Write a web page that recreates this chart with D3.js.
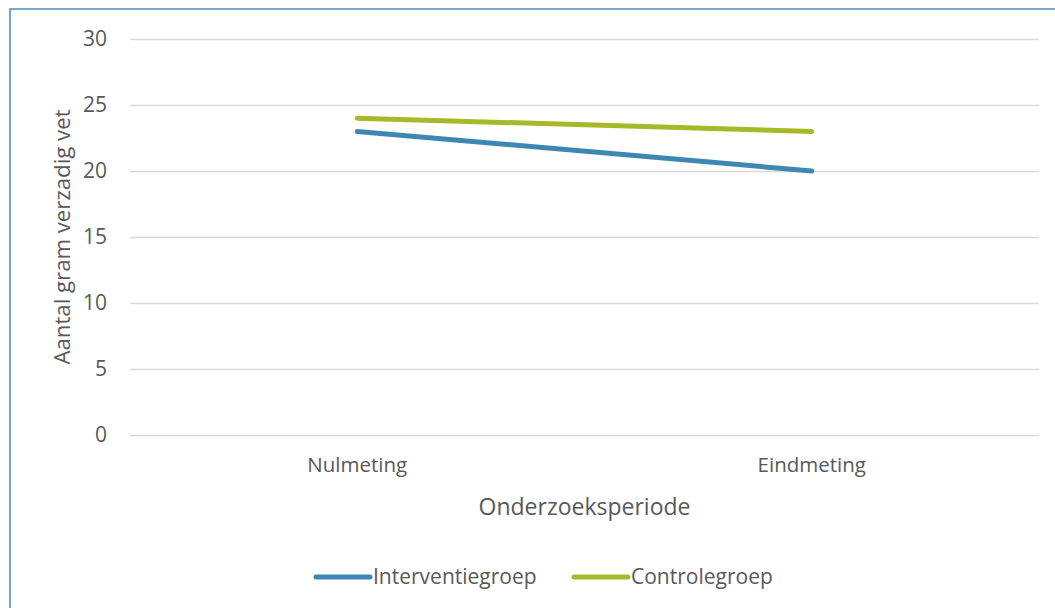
<!DOCTYPE html>
<html><head><meta charset="utf-8">
<script src="https://cdn.jsdelivr.net/npm/d3@7"></script>
<style>
html,body{margin:0;padding:0;background:#fff;}
svg{display:block;font-family:"Open Sans","Liberation Sans",sans-serif;}
</style></head>
<body>
<svg id="c" width="1055" height="608"></svg>
<script>
const categories = ["Nulmeting", "Eindmeting"];
const seriesNames = ["Interventiegroep", "Controlegroep"];
const interventie = [23, 20];
const controle = [24, 23];
const yTicks = [0, 5, 10, 15, 20, 25, 30];
const colors = ["#3e87b3", "#a7b928"];

const svg = d3.select("#c");
const m = {left:130, right:1039, top:39, bottom:435};
const x = d3.scaleBand().domain(categories).range([m.left, m.right]);
const y = d3.scaleLinear().domain([0, 30]).range([m.bottom, m.top]);

// border
svg.append("rect").attr("x", 10).attr("y", 9).attr("width", 1100).attr("height", 700)
  .attr("fill", "none").attr("stroke", "#4a89bd").attr("stroke-width", 1.5);

// gridlines
const yAxis = d3.axisLeft(y).tickValues(yTicks).tickSize(-(m.right - m.left)).tickPadding(23);
const gy = svg.append("g").attr("transform", `translate(${m.left},0)`).call(yAxis);
gy.select(".domain").remove();
gy.attr("font-family", null).attr("font-size", null);
gy.selectAll(".tick line").attr("stroke", "#d9d9d9").attr("stroke-width", 1.3);
gy.selectAll(".tick text").attr("fill", "#595959").style("font-size", "21px");

const xAxis = d3.axisBottom(x).tickSize(0).tickPadding(22);
const gx = svg.append("g").attr("transform", `translate(0,${m.bottom})`).call(xAxis);
gx.select(".domain").remove();
gx.attr("font-family", null).attr("font-size", null);
gx.selectAll(".tick text").attr("fill", "#595959").style("font-size", "20.5px");

// axis titles
svg.append("text").attr("transform", `translate(70,${(m.top + m.bottom) / 2}) rotate(-90)`)
  .attr("text-anchor", "middle").attr("fill", "#595959").style("font-size", "22.2px").text("Aantal gram verzadig vet");
svg.append("text").attr("x", (m.left + m.right) / 2).attr("y", 515)
  .attr("text-anchor", "middle").attr("fill", "#595959").style("font-size", "23px").text("Onderzoeksperiode");

// lines
const line = d3.line().x((d, i) => x(categories[i]) + x.bandwidth() / 2).y(d => y(d));
[interventie, controle].forEach((vals, k) => {
  svg.append("path").datum(vals).attr("d", line).attr("fill", "none")
    .attr("stroke", colors[k]).attr("stroke-width", 5).attr("stroke-linecap", "round");
});

// legend
const legX = [316, 574];
seriesNames.forEach((name, k) => {
  const g = svg.append("g").attr("transform", `translate(${legX[k]},577)`);
  g.append("line").attr("x1", 0).attr("x2", 54).attr("y1", 0).attr("y2", 0)
    .attr("stroke", colors[k]).attr("stroke-width", 5).attr("stroke-linecap", "round");
  g.append("text").attr("x", 57).attr("y", 7).attr("fill", "#595959").style("font-size", "21px").text(name);
});
</script>
</body></html>
